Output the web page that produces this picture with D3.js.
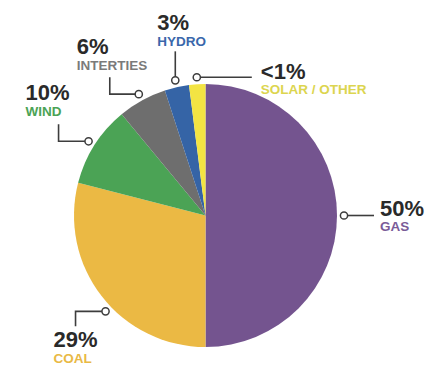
<!DOCTYPE html>
<html>
<head>
<meta charset="utf-8">
<script src="https://cdn.jsdelivr.net/npm/d3@7"></script>
<style>
  body { margin: 0; background: #fff; }
  text { font-family: "Liberation Sans", Arial, sans-serif; font-weight: bold; }
</style>
</head>
<body>
<div id="chart"></div>
<script>
// data
const sources = ["GAS", "COAL", "WIND", "INTERTIES", "HYDRO", "SOLAR / OTHER"];
const shares = [50, 29, 10, 6, 3, 2];
const shareLabels = ["50%", "29%", "10%", "6%", "3%", "<1%"];
const colors = ["#74548f", "#ebb944", "#4ba355", "#6e6e6e", "#3564a6", "#f3e443"];
const labelColors = ["#7a5b98", "#e9b945", "#4ba355", "#7a7a7a", "#3a67ab", "#dcd54f"];

// callout layout: angle nudge (deg), leader bends (relative), text position relative to leader end
const callouts = [
  { nudge: 0,  path: [[30, 0]],           tx: 6,   ty: 0 },
  { nudge: -6, path: [[-30, 0], [0, 15]], tx: -22, ty: 21 },
  { nudge: 0,  path: [[-30, 0], [0, -17]], tx: -33, ty: -24 },
  { nudge: 0,  path: [[-29, 0], [0, -17]], tx: -33, ty: -23 },
  { nudge: 0,  path: [[0, -29]],          tx: -18, ty: -21 },
  { nudge: 0,  path: [[55, 0]],           tx: 9,   ty: 1.5 }
];

const width = 436, height = 366;
const cx = 205.5, cy = 215.5, r = 131.5;

const svg = d3.select("#chart").append("svg")
  .attr("width", width)
  .attr("height", height);

const g = svg.append("g").attr("transform", `translate(${cx},${cy})`);

const pie = d3.pie().sort(null).value(d => d)(shares);
const arc = d3.arc().innerRadius(0).outerRadius(r);

g.selectAll("path.slice")
  .data(pie)
  .enter()
  .append("path")
  .attr("class", "slice")
  .attr("d", arc)
  .attr("fill", (d, i) => colors[i]);

// callouts
pie.forEach((d, i) => {
  const c = callouts[i];
  const a = (d.startAngle + d.endAngle) / 2 + c.nudge * Math.PI / 180;
  const rr = r + 7;
  const x0 = Math.sin(a) * rr, y0 = -Math.cos(a) * rr;
  let pts = [[x0, y0]];
  let x = x0, y = y0;
  c.path.forEach(p => { x += p[0]; y += p[1]; pts.push([x, y]); });

  g.append("path")
    .attr("d", d3.line()(pts))
    .attr("fill", "none")
    .attr("stroke", "#3d3d3d")
    .attr("stroke-width", 1.6);

  g.append("circle")
    .attr("cx", x0).attr("cy", y0).attr("r", 3.6)
    .attr("fill", "#fff")
    .attr("stroke", "#3d3d3d")
    .attr("stroke-width", 1.5);

  const tx = x + c.tx, ty = y + c.ty;
  g.append("text")
    .attr("x", tx).attr("y", ty)
    .attr("font-size", 22)
    .attr("fill", "#2a2a2a")
    .text(shareLabels[i]);
  g.append("text")
    .attr("x", tx).attr("y", ty + 15.5)
    .attr("font-size", 13.5)
    .attr("fill", labelColors[i])
    .text(sources[i]);
});
</script>
</body>
</html>
